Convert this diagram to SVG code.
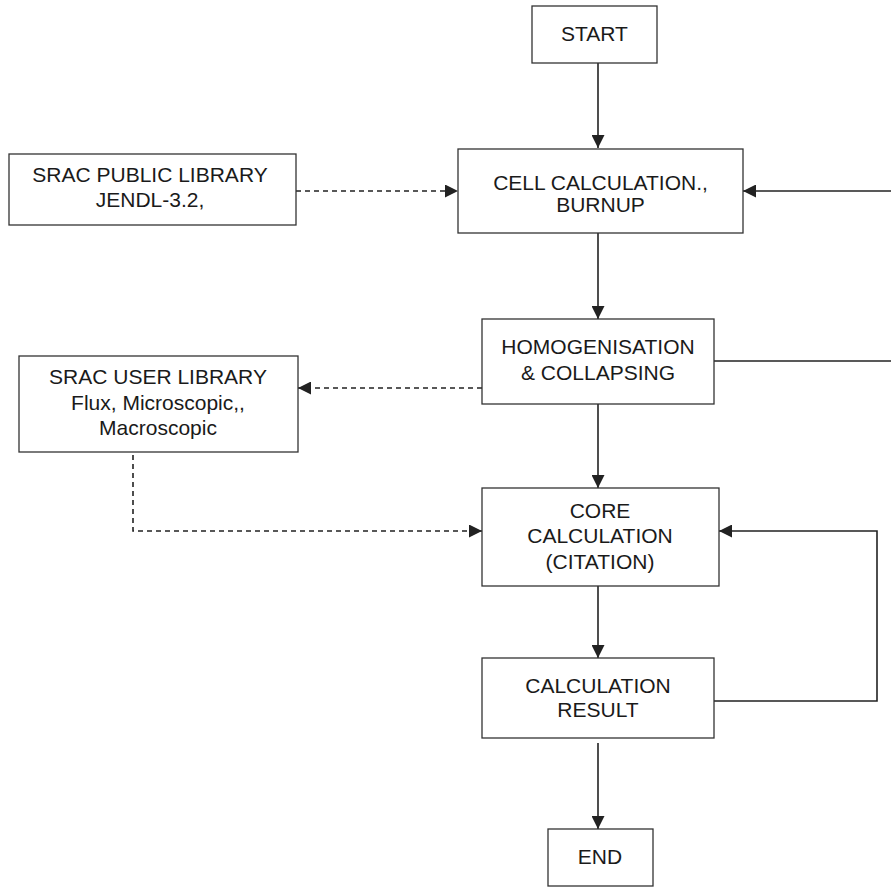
<svg xmlns="http://www.w3.org/2000/svg" width="891" height="887" viewBox="0 0 891 887">
<style>
.box{fill:#fff;stroke:#333;stroke-width:1.3}
.t{font-family:"Liberation Sans",Arial,sans-serif;font-size:21px;fill:#1a1a1a;text-anchor:middle}
.c{fill:none;stroke:#222;stroke-width:1.6}
.d{fill:none;stroke:#222;stroke-width:1.6;stroke-dasharray:5 4}
</style>
<defs>
<marker id="ah" markerWidth="13" markerHeight="13" refX="13" refY="6.5" orient="auto" markerUnits="userSpaceOnUse">
<path d="M0,0 L13,6.5 L0,13 Z" fill="#222"/>
</marker>
</defs>
<rect width="891" height="887" fill="#fff"/>
<g id="connectors">
<line class="c" x1="598" y1="63" x2="598" y2="148" marker-end="url(#ah)"/>
<line class="d" x1="296" y1="191" x2="458" y2="191" marker-end="url(#ah)"/>
<line class="c" x1="891" y1="191" x2="743" y2="191" marker-end="url(#ah)"/>
<line class="c" x1="598" y1="233" x2="598" y2="319" marker-end="url(#ah)"/>
<line class="c" x1="714" y1="361" x2="891" y2="361"/>
<line class="d" x1="482" y1="388" x2="298" y2="388" marker-end="url(#ah)"/>
<line class="c" x1="598" y1="404" x2="598" y2="488" marker-end="url(#ah)"/>
<polyline class="d" points="133,455 133,531 482,531" marker-end="url(#ah)"/>
<line class="c" x1="598" y1="586" x2="598" y2="658" marker-end="url(#ah)"/>
<polyline class="c" points="714,701 877,701 877,531 719,531" marker-end="url(#ah)"/>
<line class="c" x1="598" y1="743" x2="598" y2="829" marker-end="url(#ah)"/>
</g>
<g id="start">
<rect class="box" x="532" y="6" width="125" height="57"/>
<text class="t" x="594.5" y="41">START</text>
</g>
<g id="cell">
<rect class="box" x="458" y="149" width="285" height="84"/>
<text class="t" x="600.5" y="190">CELL CALCULATION.,</text>
<text class="t" x="600.5" y="212">BURNUP</text>
</g>
<g id="public-lib">
<rect class="box" x="9" y="154" width="287" height="71"/>
<text class="t" x="150" y="182">SRAC PUBLIC LIBRARY</text>
<text class="t" x="150" y="207">JENDL-3.2,</text>
</g>
<g id="homo">
<rect class="box" x="482" y="319" width="232" height="85"/>
<text class="t" x="598" y="354">HOMOGENISATION</text>
<text class="t" x="598" y="380">&amp; COLLAPSING</text>
</g>
<g id="user-lib">
<rect class="box" x="19" y="356" width="279" height="96"/>
<text class="t" x="158" y="384">SRAC USER LIBRARY</text>
<text class="t" x="158" y="410">Flux, Microscopic,,</text>
<text class="t" x="158" y="435">Macroscopic</text>
</g>
<g id="core">
<rect class="box" x="482" y="488" width="237" height="98"/>
<text class="t" x="600" y="518">CORE</text>
<text class="t" x="600" y="543">CALCULATION</text>
<text class="t" x="600" y="569">(CITATION)</text>
</g>
<g id="result">
<rect class="box" x="482" y="658" width="232" height="80"/>
<text class="t" x="598" y="693">CALCULATION</text>
<text class="t" x="598" y="717">RESULT</text>
</g>
<g id="end">
<rect class="box" x="548" y="829" width="105" height="57"/>
<text class="t" x="600" y="864">END</text>
</g>
</svg>
